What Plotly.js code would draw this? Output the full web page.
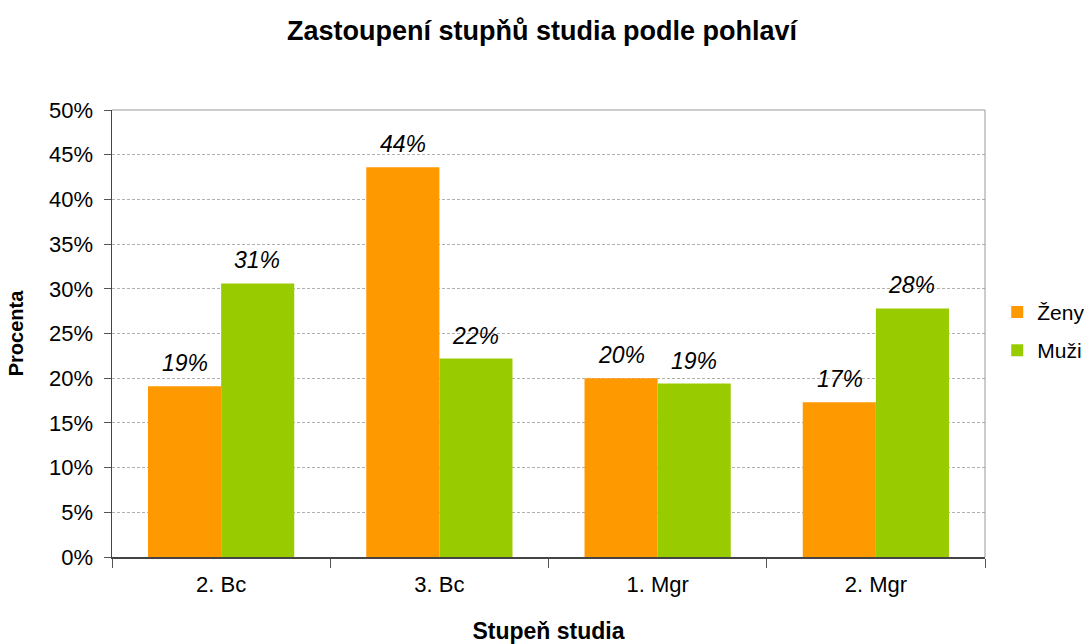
<!DOCTYPE html>
<html><head><meta charset="utf-8">
<script src="https://cdn.plot.ly/plotly-3.0.1.min.js"></script>
<style>body{margin:0;background:#fff}#c{width:1084px;height:644px}</style>
</head><body><div id="c"></div>
<script>
const categories = ["2. Bc", "3. Bc", "1. Mgr", "2. Mgr"];
const zeny = [0.191, 0.436, 0.200, 0.173];
const muzi = [0.306, 0.222, 0.194, 0.278];
const seriesNames = ["Ženy", "Muži"];
const yTicks = [0, 0.05, 0.10, 0.15, 0.20, 0.25, 0.30, 0.35, 0.40, 0.45, 0.50];

const font = "Liberation Sans, Arial, sans-serif";

function trace(name, vals, color, grp) {
  return {
    type: "bar", name: name, x: categories, y: vals, legendgroup: grp,
    marker: {color: color}, hoverinfo: "skip"
  };
}

const data = [trace(seriesNames[0], zeny, "#FF9900", "g1"), trace(seriesNames[1], muzi, "#99CC00", "g2")];

const annotations = [];
[[zeny, -36], [muzi, 36]].forEach(([vals, shift]) => {
  vals.forEach((v, i) => {
    annotations.push({
      x: categories[i], y: v, xref: "x", yref: "y", xshift: shift, yshift: 8,
      yanchor: "bottom", showarrow: false,
      text: "<i>" + Math.round(v * 100) + "%</i>",
      font: {family: font, size: 23, color: "#000"}
    });
  });
});

const layout = {
  width: 1084, height: 644,
  margin: {l: 112, r: 99, t: 110, b: 87, autoexpand: false},
  paper_bgcolor: "#fff", plot_bgcolor: "#fff",
  font: {family: font, color: "#000"},
  title: {text: "<b>Zastoupení stupňů studia podle pohlaví</b>", x: 0.5, xanchor: "center", y: 0.953, yanchor: "middle",
          font: {family: font, size: 27, color: "#000"}},
  barmode: "group", bargap: 0.33, bargroupgap: 0,
  showlegend: true,
  legend: {x: 1.014, xanchor: "left", y: 0.505, yanchor: "middle", font: {family: font, size: 21, color: "#000"},
           itemwidth: 30, tracegroupgap: 8, bgcolor: "rgba(0,0,0,0)"},
  xaxis: {
    type: "category", tickson: "boundaries", ticks: "outside", ticklen: 9, tickcolor: "#555",
    showline: true, linecolor: "#444", linewidth: 1.5, mirror: false,
    ticklabelstandoff: 7,
    tickfont: {family: font, size: 22, color: "#000"},
    title: {text: "<b>Stupeň studia</b>", font: {family: font, size: 23, color: "#000"}, standoff: 29}
  },
  yaxis: {
    range: [0, 0.5], tickvals: yTicks, tickformat: ".0%",
    ticks: "outside", ticklen: 7, tickcolor: "#555",
    showline: true, linecolor: "#444", linewidth: 1.5,
    showgrid: true, gridcolor: "#b0b0b0", griddash: "3px,2px", gridwidth: 1,
    zeroline: false, ticklabelstandoff: 6,
    tickfont: {family: font, size: 22, color: "#000"},
    title: {text: "<b>Procenta</b>", font: {family: font, size: 20, color: "#000"}, standoff: 20}
  },
  annotations: annotations,
  shapes: [
    {type: "line", xref: "paper", yref: "paper", x0: 0, x1: 1, y0: 1, y1: 1, line: {color: "#999", width: 1}},
    {type: "line", xref: "paper", yref: "paper", x0: 1, x1: 1, y0: 0, y1: 1, line: {color: "#999", width: 1}}
  ]
};

Plotly.newPlot("c", data, layout, {displayModeBar: false, staticPlot: true});
</script></body></html>
